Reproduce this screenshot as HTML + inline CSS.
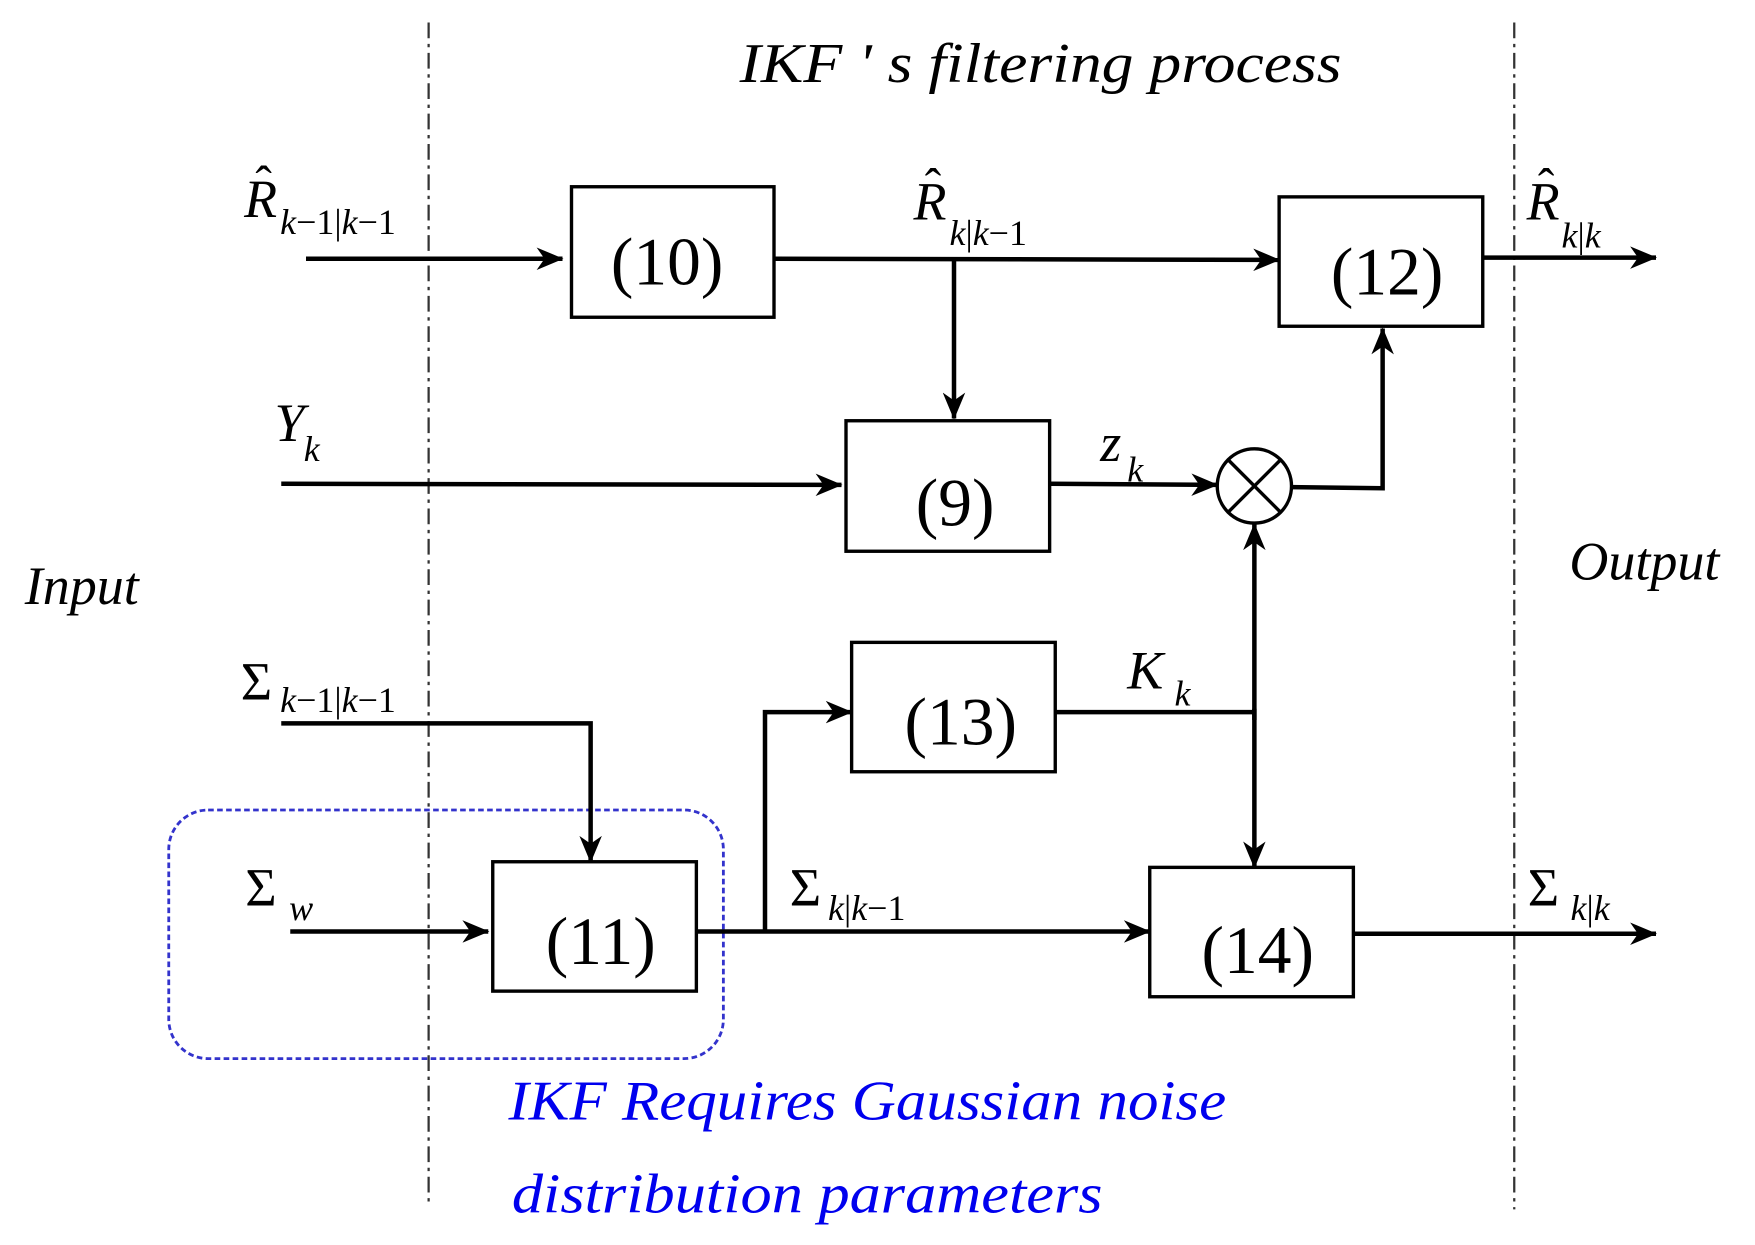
<!DOCTYPE html>
<html><head><meta charset="utf-8"><style>
html,body{margin:0;padding:0;background:#fff;}
svg{display:block;}
text{font-family:"Liberation Serif",serif;font-style:italic;fill:#000;}
.n{font-style:normal;font-size:60px;}
.u{font-style:normal;}
</style></head><body>
<svg width="1755" height="1245" viewBox="0 0 1560 1106.67" preserveAspectRatio="none" xmlns="http://www.w3.org/2000/svg">
<defs>
<marker id="a" viewBox="0 0 24 20" refX="23" refY="10" markerWidth="24" markerHeight="20" markerUnits="userSpaceOnUse" orient="auto">
<path d="M0,0 L24,10 L0,20 L7,10 Z" fill="#000"/>
</marker>
</defs>
<g stroke="#333" stroke-width="2" stroke-dasharray="14,5,3,5" fill="none">
<line x1="381" y1="20" x2="381" y2="1068"/>
<line x1="1346" y1="20" x2="1346" y2="1075"/>
</g>
<rect x="150" y="720" width="493" height="221" rx="35" fill="none" stroke="#3333cc" stroke-width="2.5" stroke-dasharray="5,3"/>
<g fill="none" stroke="#000" stroke-width="3">
<rect x="508" y="166" width="180" height="116"/>
<rect x="1137" y="175" width="181" height="115"/>
<rect x="752" y="374" width="181" height="116"/>
<rect x="757" y="571" width="181" height="115"/>
<rect x="438" y="766" width="181" height="115"/>
<rect x="1022" y="771" width="181" height="115"/>
<circle cx="1115" cy="432" r="33"/>
<line x1="1092" y1="409" x2="1138" y2="455"/>
<line x1="1138" y1="409" x2="1092" y2="455"/>
</g>
<g fill="none" stroke="#000" stroke-width="4">
<line x1="272" y1="230" x2="500" y2="230" marker-end="url(#a)"/>
<line x1="688" y1="230" x2="1137" y2="231" marker-end="url(#a)"/>
<line x1="848" y1="230" x2="848" y2="372" marker-end="url(#a)"/>
<line x1="1318" y1="229" x2="1472" y2="229" marker-end="url(#a)"/>
<line x1="250" y1="430" x2="748" y2="431" marker-end="url(#a)"/>
<line x1="933" y1="430" x2="1082" y2="431" marker-end="url(#a)"/>
<polyline points="1148,433 1229,434 1229,292" marker-end="url(#a)"/>
<polyline points="250,643 525,643 525,766" marker-end="url(#a)"/>
<line x1="258" y1="828" x2="434" y2="828" marker-end="url(#a)"/>
<line x1="619" y1="828" x2="1022" y2="828" marker-end="url(#a)"/>
<polyline points="680,828 680,633 757,633" marker-end="url(#a)"/>
<line x1="938" y1="633" x2="1115" y2="633"/>
<line x1="1115" y1="640" x2="1115" y2="466" marker-end="url(#a)"/>
<line x1="1115" y1="630" x2="1115" y2="771" marker-end="url(#a)"/>
<line x1="1203" y1="830" x2="1472" y2="830" marker-end="url(#a)"/>
</g>
<text class="n" x="593" y="253" text-anchor="middle">(10)</text>
<text class="n" x="1233" y="262" text-anchor="middle">(12)</text>
<text class="n" x="849" y="467" text-anchor="middle">(9)</text>
<text class="n" x="854" y="662" text-anchor="middle">(13)</text>
<text class="n" x="534" y="857" text-anchor="middle">(11)</text>
<text class="n" x="1118" y="865" text-anchor="middle">(14)</text>
<text x="925" y="73" font-size="50" text-anchor="middle" textLength="535" lengthAdjust="spacingAndGlyphs">IKF ' s  filtering process</text>
<text x="22" y="537" font-size="48">Input</text>
<text x="1395" y="515" font-size="48">Output</text>
<text x="217" y="193" font-size="48">R</text><text class="u" x="227" y="178" font-size="44">ˆ</text>
<text x="249" y="208" font-size="32">k<tspan class="u">−1|</tspan>k<tspan class="u">−1</tspan></text>
<text x="812" y="195" font-size="48">R</text><text class="u" x="822" y="180" font-size="44">ˆ</text>
<text x="844" y="218" font-size="32">k<tspan class="u">|</tspan>k<tspan class="u">−1</tspan></text>
<text x="1357" y="195" font-size="48">R</text><text class="u" x="1367" y="180" font-size="44">ˆ</text>
<text x="1388" y="220" font-size="32">k<tspan class="u">|</tspan>k</text>
<text x="244" y="392" font-size="48">Y</text><text x="270" y="410" font-size="32">k</text>
<text x="978" y="410" font-size="48">z</text><text x="1002" y="428" font-size="32">k</text>
<text x="1002" y="612" font-size="48">K</text><text x="1044" y="627" font-size="32">k</text>
<text class="u" x="214" y="622" font-size="48">Σ</text><text x="249" y="633" font-size="32">k<tspan class="u">−1|</tspan>k<tspan class="u">−1</tspan></text>
<text class="u" x="218" y="805" font-size="48">Σ</text><text x="257" y="818" font-size="32">w</text>
<text class="u" x="702" y="805" font-size="48">Σ</text><text x="736" y="818" font-size="32">k<tspan class="u">|</tspan>k<tspan class="u">−1</tspan></text>
<text class="u" x="1358" y="805" font-size="48">Σ</text><text x="1396" y="818" font-size="32">k<tspan class="u">|</tspan>k</text>
<text x="452" y="995" font-size="50" style="fill:#0000ee" textLength="638" lengthAdjust="spacingAndGlyphs">IKF Requires Gaussian noise</text>
<text x="455" y="1078" font-size="50" style="fill:#0000ee" textLength="525" lengthAdjust="spacingAndGlyphs">distribution parameters</text>
</svg>
</body></html>
